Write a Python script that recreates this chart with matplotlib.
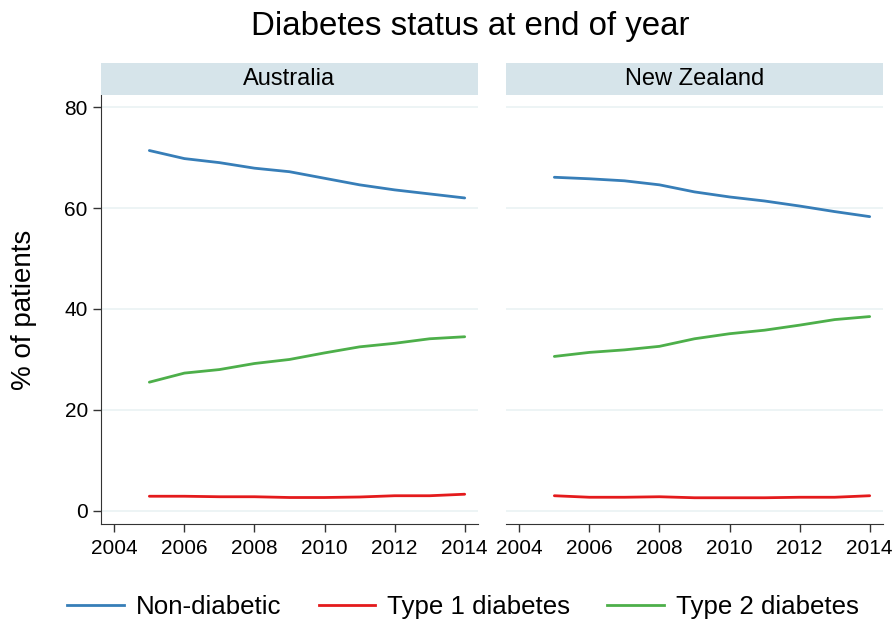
import numpy as np
import matplotlib.pyplot as plt
from matplotlib.lines import Line2D

plt.rcParams['font.family'] = ['Liberation Sans', 'DejaVu Sans']

years = [2005, 2006, 2007, 2008, 2009, 2010, 2011, 2012, 2013, 2014]
countries = ["Australia", "New Zealand"]
series_names = ["Non-diabetic", "Type 1 diabetes", "Type 2 diabetes"]

# % of patients, by country
au_non = [71.4, 69.8, 69.0, 67.9, 67.2, 65.9, 64.6, 63.6, 62.8, 62.0]
au_t1 = [2.9, 2.9, 2.8, 2.8, 2.65, 2.65, 2.75, 3.0, 3.0, 3.3]
au_t2 = [25.5, 27.3, 28.0, 29.2, 30.0, 31.3, 32.5, 33.2, 34.1, 34.5]

nz_non = [66.1, 65.8, 65.4, 64.6, 63.2, 62.2, 61.4, 60.4, 59.3, 58.3]
nz_t1 = [3.0, 2.7, 2.7, 2.8, 2.6, 2.6, 2.6, 2.7, 2.7, 3.0]
nz_t2 = [30.6, 31.4, 31.9, 32.6, 34.1, 35.1, 35.8, 36.8, 37.9, 38.5]

data = {"Australia": [au_non, au_t1, au_t2],
        "New Zealand": [nz_non, nz_t1, nz_t2]}

colors = ["#377eb8", "#e41a1c", "#4daf4a"]
strip_color = "#d6e4ea"
grid_color = "#eaf2f3"

W, H = 895, 623
fig = plt.figure(figsize=(W / 100, H / 100), dpi=100)

panel_left = [101, 506]
panel_w = 377
top, bottom = 95, 524
strip_top = 63

for i, c in enumerate(countries):
    x0 = panel_left[i]
    ax = fig.add_axes([x0 / W, (H - bottom) / H, panel_w / W, (bottom - top) / H])
    for vals, col in zip(data[c], colors):
        ax.plot(years, vals, color=col, lw=2.0, solid_capstyle="round")
    ax.set_xlim(2003.62, 2014.38)
    ax.set_ylim(-2.6, 82.4)
    ax.set_xticks(range(2004, 2015, 2))
    ax.set_yticks(range(0, 81, 20))
    ax.grid(axis="y", color=grid_color, lw=1.2)
    ax.set_axisbelow(True)
    for s in ["top", "right"]:
        ax.spines[s].set_visible(False)
    ax.spines["bottom"].set_color("#333333")
    ax.spines["left"].set_color("#333333")
    ax.tick_params(axis="both", labelsize=15, length=6, color="#333333", width=1)
    ax.tick_params(axis="x", pad=5)
    if i == 0:
        ax.set_ylabel("% of patients", fontsize=20, labelpad=20)
    else:
        ax.spines["left"].set_visible(False)
        ax.tick_params(axis="y", left=False, labelleft=False)

    sax = fig.add_axes([x0 / W, (H - top) / H, panel_w / W, (top - strip_top) / H])
    sax.set_facecolor(strip_color)
    sax.set_xticks([])
    sax.set_yticks([])
    for s in sax.spines.values():
        s.set_visible(False)
    sax.text(0.5, 0.5, c, ha="center", va="center", fontsize=17, transform=sax.transAxes)

fig.text(470 / W, 1 - 27 / H, "Diabetes status at end of year", ha="center", va="center", fontsize=23.8)

handles = [Line2D([], [], color=col, lw=2.0) for col in colors]
fig.legend(handles, series_names, loc="center", bbox_to_anchor=(463 / W, 1 - 607 / H),
           ncol=3, frameon=False, fontsize=18.6, handlelength=2.2, columnspacing=1.45,
           handletextpad=0.45)

fig.savefig("out.png", dpi=100, facecolor="white")
